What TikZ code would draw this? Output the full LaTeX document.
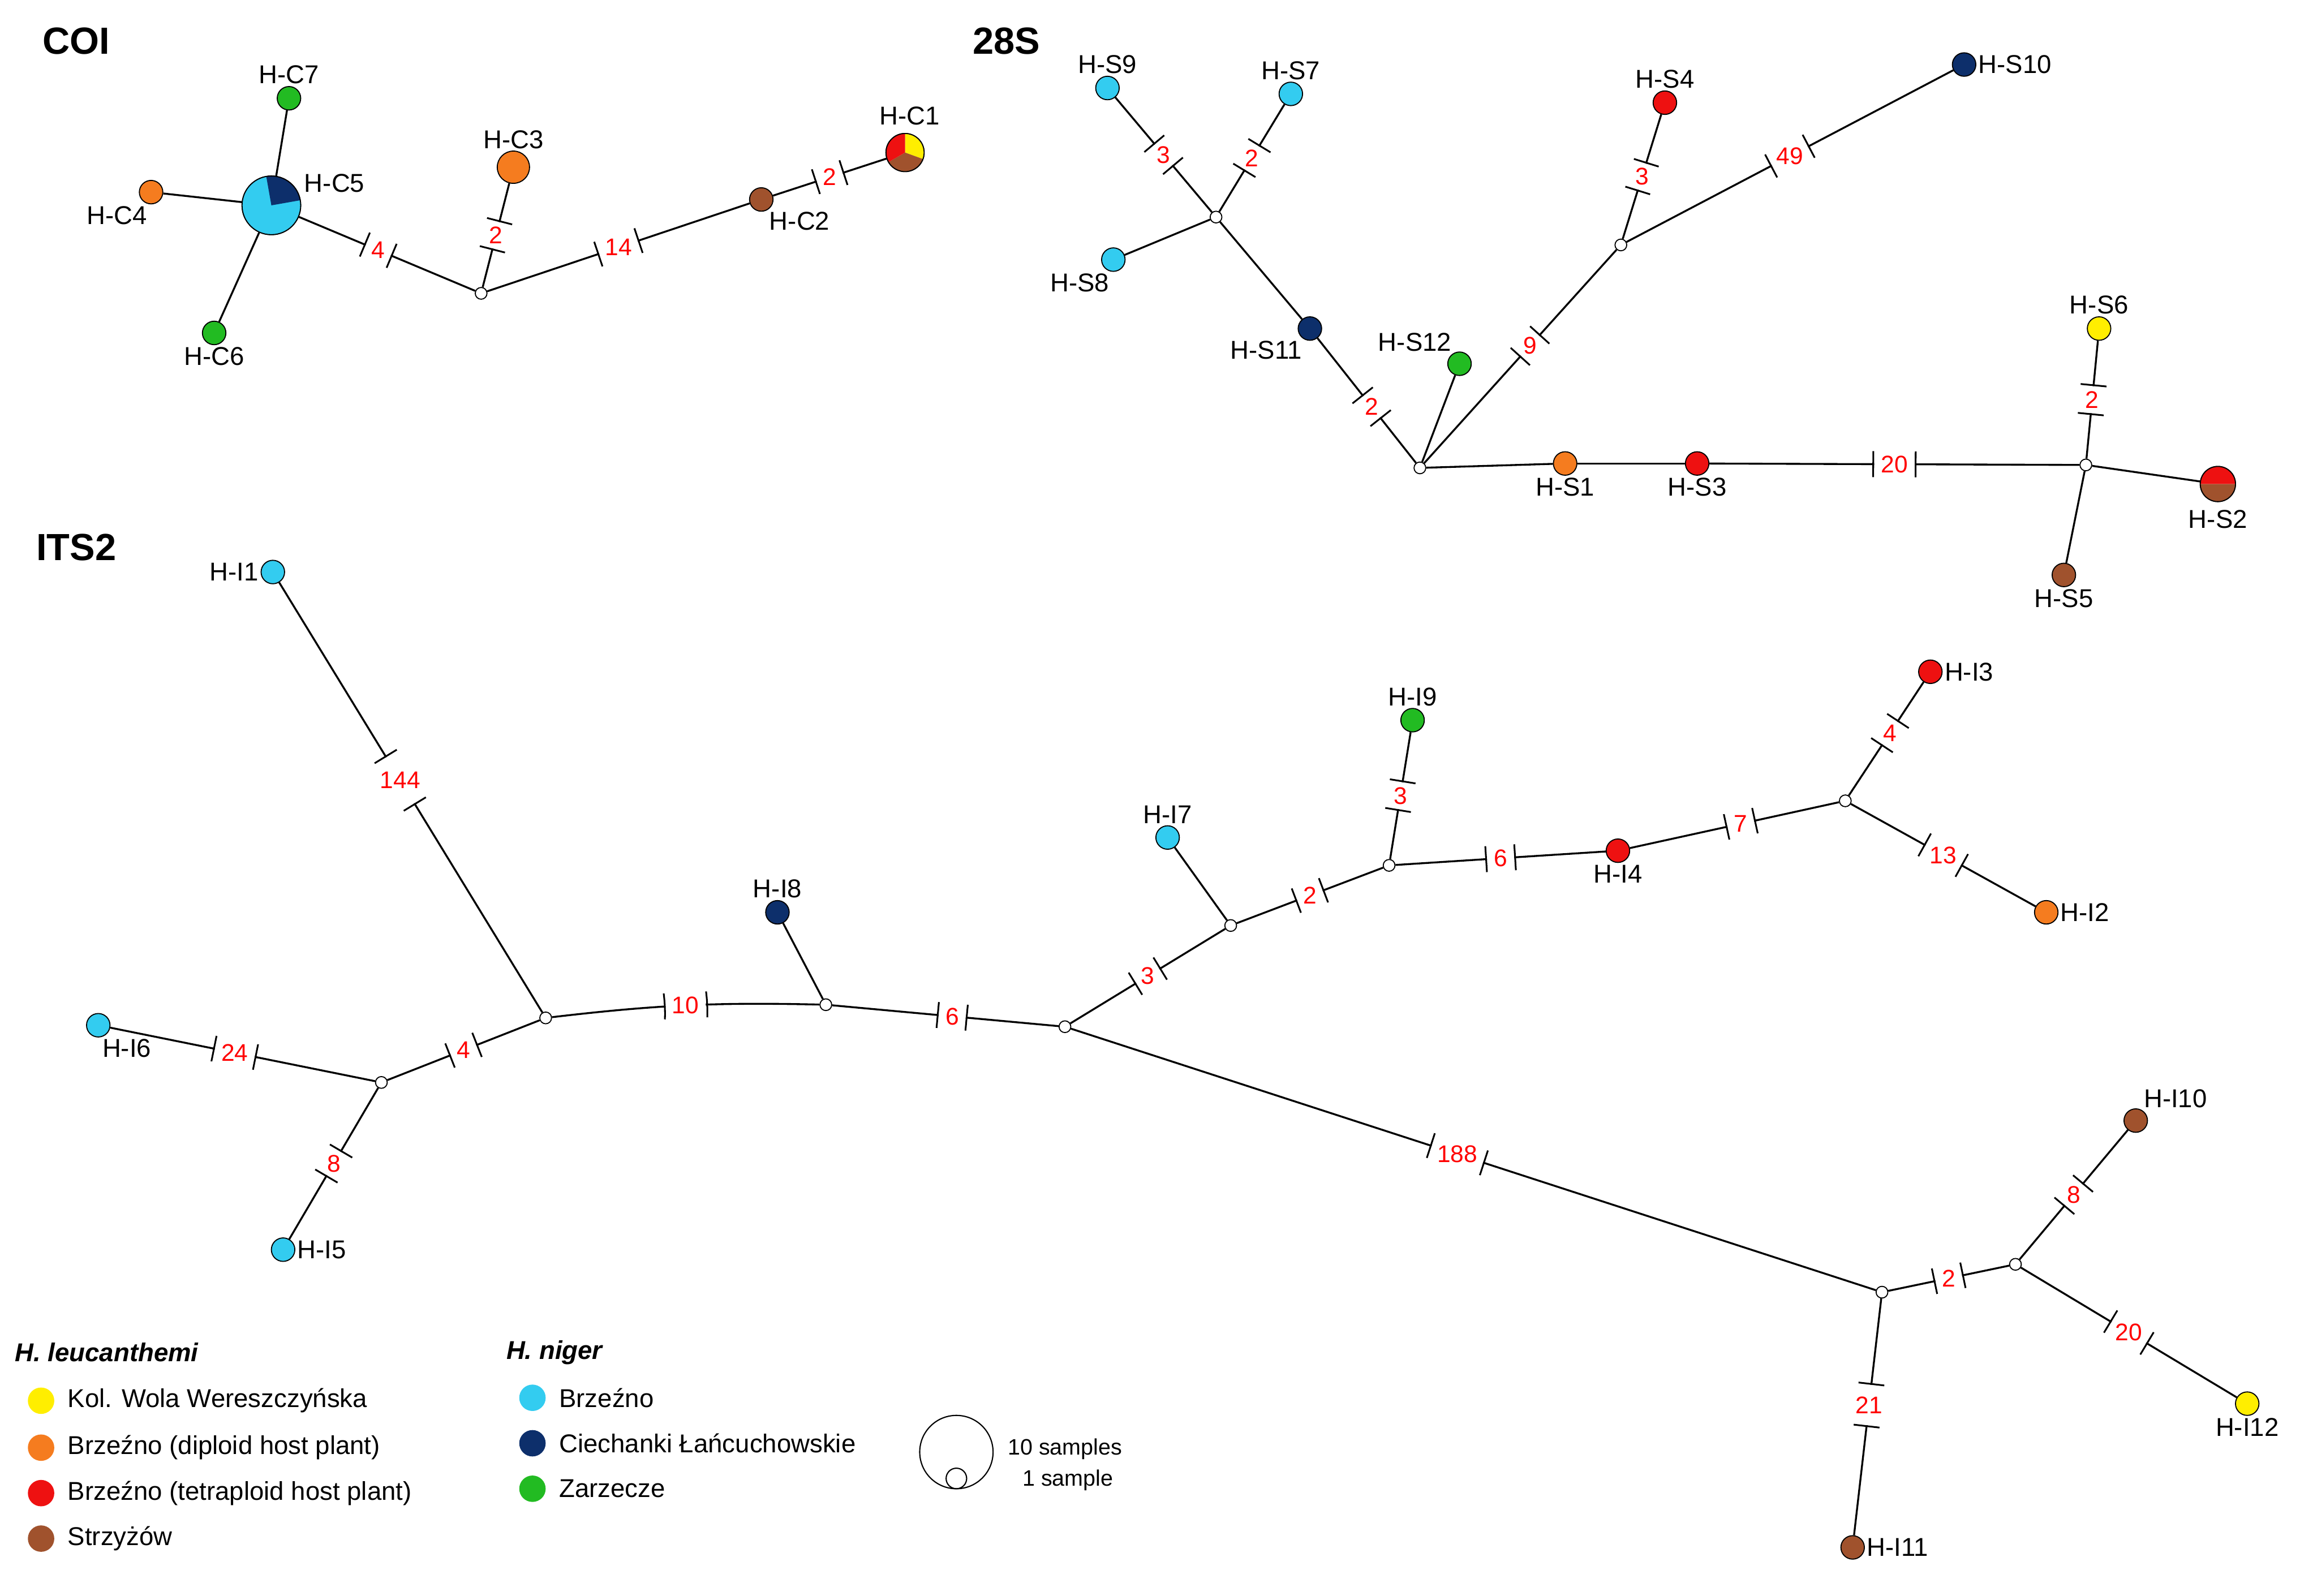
\documentclass[tikz,border=0pt]{standalone}
\usepackage{fontspec}
\setmainfont{Liberation Sans}
\begin{document}
\definecolor{cy}{HTML}{33CCF0}
\definecolor{nv}{HTML}{0D2F6B}
\definecolor{gr}{HTML}{22BB22}
\definecolor{orn}{HTML}{F57C1F}
\definecolor{rd}{HTML}{EE1111}
\definecolor{yl}{HTML}{FFEE00}
\definecolor{br}{HTML}{A0522D}
\begin{tikzpicture}[x=0.03cm,y=-0.03cm,
 hap/.style={circle,draw=black,line width=0.6pt,minimum size=0.48cm,inner sep=0pt},
 v/.style={circle,draw=black,fill=white,line width=0.6pt,minimum size=0.24cm,inner sep=0pt},
 lbl/.style={font=\fontsize{15}{17}\selectfont,inner sep=1pt},
 lab/.style={text=red,font=\fontsize{14}{16}\selectfont,inner sep=0pt},
 tk/.style={sloped,font=\fontsize{14}{16}\selectfont,inner xsep=4pt,inner ysep=0pt,minimum height=14pt,fill=white,
   append after command={(\tikzlastnode.north west) edge[draw=black,line width=1pt] (\tikzlastnode.south west)
   (\tikzlastnode.north east) edge[draw=black,line width=1pt] (\tikzlastnode.south east)}},
 edge/.style={draw=black,line width=1.1pt},
 head/.style={font=\bfseries\fontsize{22}{24}\selectfont},
 leg/.style={font=\fontsize{15}{17}\selectfont,anchor=west,inner sep=0pt}]
\useasboundingbox (0,0) rectangle (1568,1088);
% ---- headings
\node[head] (hC) at (52,28) {COI};
\node[head] (hS) at (686,28) {28S};
\node[head] (hI) at (52,373) {ITS2};
% ---- COI
\node[hap,minimum size=1.2cm] (C5) at (185,140) {};
\fill[cy] (185,140) circle (20);
\fill[nv] (185,140) -- ++(-10:20) arc[start angle=-10,end angle=-100,radius=20] -- cycle;
\draw[line width=0.6pt] (185,140) circle (20);
\node[lbl] at (228,125) {H-C5};
\node[hap,fill=gr,label={[lbl]90:H-C7}] (C7) at (197,67) {};
\node[hap,fill=orn,label={[lbl]-100:H-C4}] (C4) at (103,131) {};
\node[hap,fill=gr,label={[lbl]-90:H-C6}] (C6) at (146,227) {};
\node[v] (m1) at (328,200) {};
\node[hap,fill=orn,minimum size=0.66cm,label={[lbl]90:H-C3}] (C3) at (350,114) {};
\node[hap,fill=br,label={[lbl]-60:H-C2}] (C2) at (519,136) {};
\node[hap,minimum size=0.78cm] (C1) at (617,104) {};
\fill[yl] (617,104) -- ++(-90:13) arc[start angle=-90,end angle=20,radius=13] -- cycle;
\fill[br] (617,104) -- ++(20:13) arc[start angle=20,end angle=150,radius=13] -- cycle;
\fill[rd] (617,104) -- ++(150:13) arc[start angle=150,end angle=270,radius=13] -- cycle;
\draw[line width=0.6pt] (617,104) circle (13);
\node[lbl] at (620,79) {H-C1};
\path[edge] (C5) -- (C7);
\path[edge] (C5) -- (C4);
\path[edge] (C5) -- (C6);
\path[edge] (C5) -- node[tk,pos=0.45]{\phantom{4}} node[lab,pos=0.45]{4} (m1);
\path[edge] (m1) -- node[tk]{\phantom{2}} node[lab]{2} (C3);
\path[edge] (m1) -- node[tk]{\phantom{14}} node[lab]{14} (C2);
\path[edge] (C2) -- node[tk]{\phantom{2}} node[lab]{2} (C1);
% ---- 28S
\node[v] (a) at (829,148) {};
\node[hap,fill=cy,label={[lbl]90:H-S9}] (S9) at (755,60) {};
\node[hap,fill=cy,label={[lbl]90:H-S7}] (S7) at (880,64) {};
\node[hap,fill=cy,label={[lbl]-100:H-S8}] (S8) at (759,177) {};
\node[hap,fill=nv,label={[lbl]-120:H-S11}] (S11) at (893,224) {};
\node[v] (c) at (968,319) {};
\node[hap,fill=gr,label={[lbl]120:H-S12}] (S12) at (995,248) {};
\node[v] (b) at (1105,167) {};
\node[hap,fill=rd,label={[lbl]90:H-S4}] (S4) at (1135,70) {};
\node[hap,fill=nv,label={[lbl]0:H-S10}] (S10) at (1339,44) {};
\node[hap,fill=orn,label={[lbl]-90:H-S1}] (S1) at (1067,316) {};
\node[hap,fill=rd,label={[lbl]-90:H-S3}] (S3) at (1157,316) {};
\node[v] (d) at (1422,317) {};
\node[hap,fill=yl,label={[lbl]90:H-S6}] (S6) at (1431,224) {};
\node[hap,fill=br,label={[lbl]-90:H-S5}] (S5) at (1407,392) {};
\node[hap,minimum size=0.72cm] (S2) at (1512,330) {};
\fill[rd] (1512,330) -- ++(0:12) arc[start angle=0,end angle=-180,radius=12] -- cycle;
\fill[br] (1512,330) -- ++(180:12) arc[start angle=180,end angle=0,radius=12] -- cycle;
\draw[line width=0.6pt] (1512,330) circle (12);
\node[lbl] at (1512,354) {H-S2};
\path[edge] (a) -- node[tk]{\phantom{3}} node[lab]{3} (S9);
\path[edge] (a) -- node[tk]{\phantom{2}} node[lab]{2} (S7);
\path[edge] (a) -- (S8);
\path[edge] (a) -- (S11);
\path[edge] (S11) -- node[tk,pos=0.55]{\phantom{2}} node[lab,pos=0.55]{2} (c);
\path[edge] (c) -- (S12);
\path[edge] (c) -- node[tk,pos=0.55]{\phantom{9}} node[lab,pos=0.55]{9} (b);
\path[edge] (b) -- node[tk]{\phantom{3}} node[lab]{3} (S4);
\path[edge] (b) -- node[tk]{\phantom{49}} node[lab]{49} (S10);
\path[edge] (c) -- (S1);
\path[edge] (S1) -- (S3);
\path[edge] (S3) -- node[tk]{\phantom{20}} node[lab]{20} (d);
\path[edge] (d) -- node[tk]{\phantom{2}} node[lab]{2} (S6);
\path[edge] (d) -- (S2);
\path[edge] (d) -- (S5);
% ---- ITS2
\node[hap,fill=cy,label={[lbl]180:H-I1}] (I1) at (186,390) {};
\node[v] (e) at (372,694) {};
\node[v] (f) at (260,738) {};
\node[hap,fill=cy,label={[lbl]-80:H-I6}] (I6) at (67,699) {};
\node[hap,fill=cy,label={[lbl]0:H-I5}] (I5) at (193,852) {};
\node[v] (g) at (563,685) {};
\node[hap,fill=nv,label={[lbl]90:H-I8}] (I8) at (530,622) {};
\node[v] (h) at (726,700) {};
\node[v] (i) at (839,631) {};
\node[hap,fill=cy,label={[lbl]90:H-I7}] (I7) at (796,571) {};
\node[v] (j) at (947,590) {};
\node[hap,fill=gr,label={[lbl]90:H-I9}] (I9) at (963,491) {};
\node[hap,fill=rd,label={[lbl]-90:H-I4}] (I4) at (1103,580) {};
\node[v] (k) at (1258,546) {};
\node[hap,fill=rd,label={[lbl]0:H-I3}] (I3) at (1316,458) {};
\node[hap,fill=orn,label={[lbl]0:H-I2}] (I2) at (1395,622) {};
\node[v] (l) at (1283,881) {};
\node[v] (m) at (1374,862) {};
\node[hap,fill=br,label={[lbl]60:H-I10}] (I10) at (1456,764) {};
\node[hap,fill=yl,label={[lbl]-90:H-I12}] (I12) at (1532,957) {};
\node[hap,fill=br,label={[lbl]0:H-I11}] (I11) at (1263,1055) {};
\path[edge] (I1) -- node[tk,pos=0.46]{\phantom{144}} node[lab,pos=0.46]{144} (e);
\path[edge] (e) -- node[tk]{\phantom{4}} node[lab]{4} (f);
\path[edge] (f) -- node[tk,pos=0.53]{\phantom{24}} node[lab,pos=0.53]{24} (I6);
\path[edge] (f) -- node[tk]{\phantom{8}} node[lab]{8} (I5);
\path[edge] (e) to[bend left=4] node[tk]{\phantom{10}} node[lab]{10} (g);
\path[edge] (g) -- (I8);
\path[edge] (g) -- node[tk,pos=0.53]{\phantom{6}} node[lab,pos=0.53]{6} (h);
\path[edge] (h) -- node[tk]{\phantom{3}} node[lab]{3} (i);
\path[edge] (i) -- (I7);
\path[edge] (i) -- node[tk]{\phantom{2}} node[lab]{2} (j);
\path[edge] (j) -- node[tk]{\phantom{3}} node[lab]{3} (I9);
\path[edge] (j) -- node[tk]{\phantom{6}} node[lab]{6} (I4);
\path[edge] (I4) -- node[tk,pos=0.53]{\phantom{7}} node[lab,pos=0.53]{7} (k);
\path[edge] (k) -- node[tk,pos=0.55]{\phantom{4}} node[lab,pos=0.55]{4} (I3);
\path[edge] (k) -- node[tk]{\phantom{13}} node[lab]{13} (I2);
\path[edge] (h) -- node[tk,pos=0.48]{\phantom{188}} node[lab,pos=0.48]{188} (l);
\path[edge] (l) -- node[tk]{\phantom{2}} node[lab]{2} (m);
\path[edge] (m) -- node[tk]{\phantom{8}} node[lab]{8} (I10);
\path[edge] (m) -- node[tk]{\phantom{20}} node[lab]{20} (I12);
\path[edge] (l) -- node[tk,pos=0.45]{\phantom{21}} node[lab,pos=0.45]{21} (I11);
% ---- legend
\node[leg,font=\bfseries\itshape\fontsize{15}{17}\selectfont] (L1) at (10,922) {H. leucanthemi};
\node[leg,font=\bfseries\itshape\fontsize{15}{17}\selectfont] (L2) at (345,922) {H. niger};
\fill[yl] (28,955) circle (9); \node[leg] (a1) at (46,955) {Kol. Wola Wereszczyńska};
\fill[orn] (28,987) circle (9); \node[leg] (a2) at (46,987) {Brzeźno (diploid host plant)};
\fill[rd] (28,1018) circle (9); \node[leg] (a3) at (46,1018) {Brzeźno (tetraploid host plant)};
\fill[br] (28,1049) circle (9); \node[leg] (a4) at (46,1049) {Strzyżów};
\fill[cy] (363,953) circle (9); \node[leg] (b1) at (381,953) {Brzeźno};
\fill[nv] (363,984) circle (9); \node[leg] (b2) at (381,984) {Ciechanki Łańcuchowskie};
\fill[gr] (363,1015) circle (9); \node[leg] (b3) at (381,1015) {Zarzecze};
\draw[line width=0.7pt] (652,990) circle (25);
\draw[line width=0.7pt] (652,1008) circle (7);
\node[leg,anchor=center,font=\fontsize{13}{15}\selectfont] (s1) at (726,988) {10 samples};
\node[leg,anchor=center,font=\fontsize{13}{15}\selectfont] (s2) at (728,1009) {1 sample};
\end{tikzpicture}
\end{document}
